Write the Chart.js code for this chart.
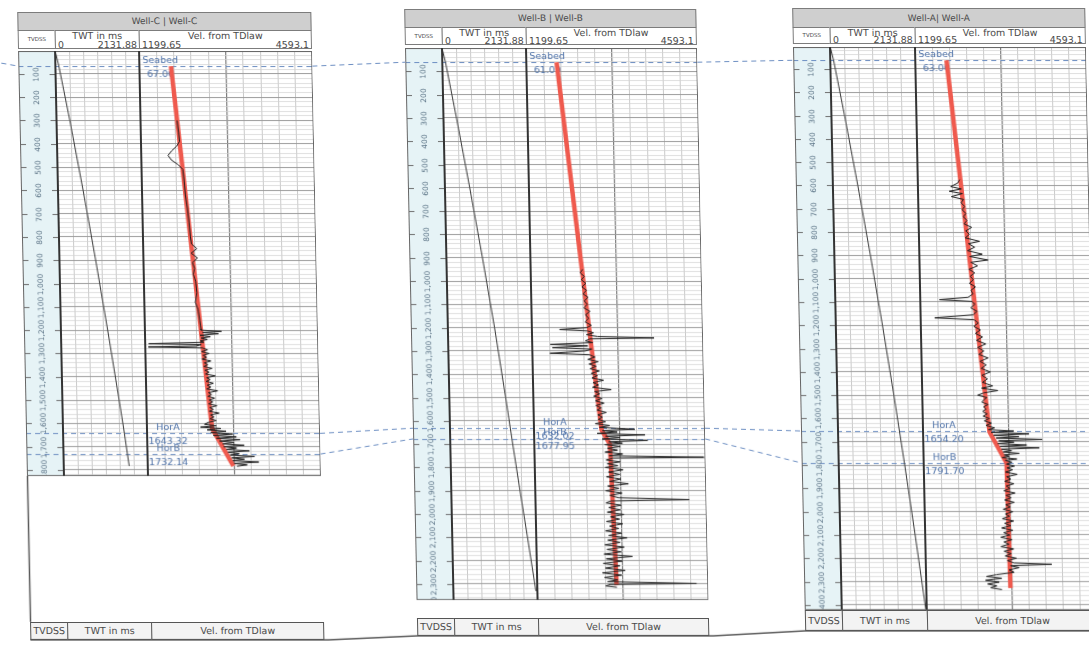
<!DOCTYPE html>
<html>
<head>
<meta charset="utf-8">
<title>Well correlation - TWT and TDlaw velocity</title>
<script src="https://cdn.jsdelivr.net/npm/chart.js@4.4.1/dist/chart.umd.min.js"></script>
<style>
  html, body { margin:0; padding:0; background:#fff; width:1089px; height:666px; overflow:hidden; }
  #sheet { position:absolute; left:0; top:0; width:1089px; height:666px; transform-origin:0 0; transform:skewX(1.2deg);
           font-family:"DejaVu Sans", Arial, sans-serif; color:#4a4a4a; }
  .cell { position:absolute; box-sizing:border-box; border:1px solid #7c7c7c; background:#fff; overflow:hidden; white-space:nowrap; }
  .title { background:#cfcfcf; text-align:center; font-size:9px; }
  .tv { font-size:5.5px; text-align:center; }
  .cap { position:absolute; left:0; right:0; top:0px; line-height:10px; text-align:center; font-size:9.5px; }
  .lo { position:absolute; left:2px; bottom:-2px; line-height:10px; font-size:9.5px; }
  .hi { position:absolute; right:2px; bottom:-2px; line-height:10px; font-size:9.5px; }
  .foot { background:#f3f3f3; border:1.5px solid #555; text-align:center; font-size:9.5px; }
  canvas { position:absolute; }
</style>
</head>
<body>
<div id="sheet"></div>
<script>
// ---------------- data ----------------
const wellTitles   = ['Well-C | Well-C', 'Well-B | Well-B', 'Well-A| Well-A'];
const twtAxis      = [0, 2131.88];          // TWT in ms
const velAxis      = [1199.65, 4593.1];     // Vel. from TDlaw
const horizonNames = ['Seabed', 'HorA', 'HorB'];
const horizonC     = [67.00, 1643.32, 1732.14];
const horizonB     = [61.00, 1632.02, 1677.95];
const horizonA     = [63.00, 1654.20, 1791.70];
const depthViewC   = [2, 1826];
const depthViewB   = [0, 2369];
const depthViewA   = [6, 2422];

// [TVDSS, TWT]
const twtC = [[0,0],[67,89],[300,338],[600,638],[900,920],[1200,1187],[1500,1441],[1620,1539],[1783,1661]];
const twtB = [[0,0],[61,81],[300,330],[600,630],[900,915],[1200,1185],[1500,1430],[1700,1585],[1900,1745],[2100,1910],[2330,2095]];
const twtA = [[0,0],[63,84],[300,330],[600,625],[900,905],[1200,1170],[1500,1420],[1800,1655],[2100,1880],[2422,2110]];

// [TVDSS, velocity] from the TD law
const tdlawC = [[67,1819],[1620,2475],[1783,2880]];
const tdlawB = [[61,1801],[1639,2540],[1700,2700],[2305,2775]];
const tdlawA = [[63,1820],[1658,2519],[1791,2844],[2328,2870]];

// [TVDSS, velocity] log
const sonicC = [[300,1915],[350,1940],[390,1955],[410,1900],[430,1800],[450,1725],[470,1790],[490,1920],[510,2010],[560,2030],
 [620,2050],[680,2085],[740,2110],[800,2130],[830,2150],[850,2250],[870,2140],[890,2260],[910,2160],[935,2200],[960,2170],
 [990,2215],[1040,2235],[1080,2200],[1110,2250],[1160,2280],[1195,2300],[1200,2300],[1205,2700],[1210,2330],[1215,2640],
 [1222,2280],[1228,2480],[1234,2300],[1240,2420],[1246,2280],[1252,2350],[1258,1270],[1262,2300],[1268,2200],[1272,1260],
 [1276,2320],[1284,2420],[1292,2300],[1300,2450],[1308,2330],[1316,2400],[1324,2310],[1332,2480],[1340,2350],[1348,2420],
 [1356,2340],[1364,2500],[1372,2360],[1380,2440],[1388,2370],[1396,2560],[1404,2390],[1412,2460],[1420,2380],[1428,2520],
 [1436,2400],[1444,2470],[1452,2390],[1460,2600],[1468,2420],[1476,2480],[1484,2410],[1492,2540],[1500,2430],[1508,2500],
 [1516,2420],[1524,2580],[1532,2440],[1540,2510],[1548,2430],[1556,2620],[1564,2450],[1572,2520],[1580,2440],[1588,2560],
 [1596,2400],[1604,2330],[1610,2560],[1616,2250],[1622,2650],[1628,2380],[1634,2750],[1640,2450],[1646,2880],[1652,2500],
 [1658,2950],[1664,2560],[1670,3020],[1676,2620],[1682,2900],[1688,2680],[1694,3100],[1700,2700],[1706,2950],[1712,2750],
 [1718,3200],[1724,2780],[1730,3000],[1736,2820],[1742,3300],[1748,2850],[1754,3100],[1760,2870],[1766,3380],[1772,2900],
 [1778,3150],[1784,2950]];

const sonicB = [[950,2230],[965,2180],[980,2260],[995,2200],[1010,2290],[1025,2210],[1040,2300],[1055,2230],[1070,2330],
 [1085,2250],[1100,2310],[1115,2240],[1130,2360],[1145,2270],[1160,2330],[1175,2260],[1190,2380],[1200,2290],[1208,1750],
 [1214,2300],[1222,2420],[1230,2280],[1238,2500],[1244,3620],[1248,2350],[1256,2260],[1264,2400],[1272,1560],[1278,2300],
 [1286,1600],[1292,2380],[1300,2250],[1310,1550],[1316,2330],[1326,2440],[1336,2300],[1346,2500],[1356,2320],[1366,2460],
 [1376,2340],[1386,2520],[1396,2360],[1406,2480],[1416,2370],[1426,2600],[1436,2390],[1446,2500],[1456,2380],[1466,2750],
 [1474,2420],[1484,2520],[1494,2400],[1504,2560],[1514,2430],[1524,2600],[1534,2440],[1544,2540],[1554,2460],[1564,2640],
 [1574,2470],[1584,2560],[1594,2480],[1604,2620],[1612,2420],[1620,2700],[1628,2500],[1636,3200],[1642,2560],[1648,2850],
 [1654,2450],[1660,3400],[1666,2620],[1672,2900],[1678,2550],[1684,3450],[1690,2680],[1696,2950],[1702,2600],[1710,2900],
 [1718,2650],[1726,2850],[1734,2600],[1742,2950],[1750,2680],[1756,4560],[1760,2750],[1768,2620],[1776,2900],[1784,2640],
 [1792,2850],[1800,2600],[1810,2950],[1820,2660],[1830,2880],[1840,2620],[1850,2900],[1860,2680],[1870,3050],[1880,2640],
 [1890,2860],[1900,2600],[1910,2920],[1920,2680],[1930,2850],[1938,4250],[1944,2700],[1952,2600],[1962,2900],[1972,2650],
 [1982,2880],[1992,2620],[2002,2950],[2012,2680],[2022,2860],[2032,2600],[2042,2920],[2052,2660],[2062,2840],[2072,2580],
 [2082,2900],[2092,2640],[2102,3000],[2112,2620],[2122,2860],[2132,2560],[2142,2940],[2152,2600],[2162,2880],[2172,2540],
 [2182,3100],[2192,2580],[2202,2900],[2212,2520],[2222,2850],[2232,2560],[2242,2950],[2252,2500],[2262,2880],[2272,2540],
 [2282,2800],[2290,2600],[2298,4360],[2302,2650],[2308,2560],[2314,2780]];

const sonicA = [[575,2030],[590,1990],[605,1850],[615,2060],[625,1820],[635,2080],[648,1860],[660,2100],[675,2050],[690,2120],
 [705,2070],[720,2140],[735,2090],[750,2160],[765,2100],[780,2250],[795,2130],[810,2200],[825,2120],[840,2400],[850,2180],
 [865,2300],[880,2160],[895,2450],[905,2200],[920,2560],[930,2220],[945,2350],[960,2180],[975,2290],[990,2200],[1005,2260],
 [1020,2180],[1035,2300],[1050,2210],[1065,2250],[1080,2150],[1090,1580],[1098,2230],[1110,2280],[1125,2200],[1140,2320],
 [1155,2240],[1168,1480],[1176,2260],[1190,2340],[1205,2250],[1220,2380],[1235,2280],[1250,2420],[1265,2300],[1280,2480],
 [1295,2320],[1310,2440],[1325,2340],[1340,2520],[1355,2360],[1370,2480],[1385,2380],[1400,2560],[1415,2390],[1430,2500],
 [1445,2400],[1460,2600],[1470,2380],[1480,2700],[1490,2420],[1500,2300],[1510,2480],[1520,2420],[1530,2380],[1540,2500],
 [1550,2410],[1560,2460],[1570,2390],[1580,2480],[1590,2400],[1600,2520],[1610,2420],[1620,2560],[1630,2450],[1640,2620],
 [1648,2500],[1654,3000],[1660,2550],[1666,3300],[1672,2600],[1678,3100],[1684,2650],[1690,3560],[1696,2700],[1702,3000],
 [1708,2680],[1714,3250],[1720,2720],[1726,3500],[1732,2750],[1738,2950],[1744,2780],[1750,3100],[1756,2800],[1762,2900],
 [1768,2760],[1774,3050],[1780,2820],[1788,2950],[1796,2840],[1804,3000],[1812,2850],[1820,2960],[1830,2820],[1840,3050],
 [1850,2840],[1860,2920],[1870,2800],[1880,2980],[1890,2830],[1900,2900],[1910,2780],[1920,3000],[1930,2820],[1940,2920],
 [1950,2790],[1960,2980],[1970,2810],[1980,2900],[1990,2760],[2000,2950],[2010,2800],[2020,2880],[2030,2740],[2040,2960],
 [2050,2780],[2060,2900],[2070,2720],[2080,2940],[2090,2760],[2100,2880],[2110,2700],[2120,2920],[2130,2760],[2140,2860],
 [2150,2700],[2160,2950],[2170,2760],[2180,2900],[2190,2780],[2200,3000],[2210,2820],[2220,2950],[2226,3700],[2232,2880],
 [2240,3050],[2250,2850],[2260,2950],[2270,2600],[2278,2400],[2286,2700],[2294,2380],[2302,2650],[2310,2420],[2318,2600],
 [2326,2480],[2334,2700]];

// ---------------- panel layout (px) ----------------
const panels = [
  { left:17,  headTop:12, titleH:19, subH:19, plotTop:51, plotBottom:476, footTop:622, footH:18,
    depthW:37, twtW:84, velW:173, view:depthViewC, hz:horizonC, twt:twtC, tdlaw:tdlawC, sonic:sonicC },
  { left:404, headTop:9,  titleH:19, subH:18, plotTop:48, plotBottom:600, footTop:618, footH:18,
    depthW:37, twtW:84, velW:171, view:depthViewB, hz:horizonB, twt:twtB, tdlaw:tdlawB, sonic:sonicB },
  { left:792, headTop:8,  titleH:20, subH:17, plotTop:47, plotBottom:610, footTop:610, footH:21,
    depthW:37, twtW:85, velW:171, view:depthViewA, hz:horizonA, twt:twtA, tdlaw:tdlawA, sonic:sonicA }
];

const sheet = document.getElementById('sheet');
function cell(cls, x, y, w, h, html) {
  const d = document.createElement('div');
  d.className = 'cell ' + cls;
  Object.assign(d.style, { left:x+'px', top:y+'px', width:w+'px', height:h+'px', lineHeight:(h-2)+'px' });
  d.innerHTML = html;
  sheet.appendChild(d);
  return d;
}

const divisions = (lo, hi, n) => Array.from({ length:n+1 }, (_, i) => ({ value: lo + (hi - lo) * i / n }));
const toXY = arr => arr.map(p => ({ x:p[1], y:p[0] }));

// draws the depth column, horizon picks and track borders of one panel
const trackPlugin = {
  id: 'track',
  beforeDraw(chart) {
    const { ctx, chartArea:a, width, height } = chart;
    ctx.save();
    ctx.fillStyle = '#ffffff'; ctx.fillRect(0, 0, width, height);
    ctx.fillStyle = '#e6f3f6'; ctx.fillRect(0, 0, a.left, height);
    ctx.restore();
  },
  beforeDatasetsDraw(chart, args, opts) {
    const { ctx, scales:{ y, xV }, width } = chart;
    ctx.save();
    ctx.strokeStyle = '#6c8ec2'; ctx.lineWidth = 1; ctx.setLineDash([5, 4]);
    opts.depths.forEach(d => {
      const py = Math.round(y.getPixelForValue(d)) + 0.5;
      ctx.beginPath(); ctx.moveTo(0, py); ctx.lineTo(width, py); ctx.stroke();
    });
    ctx.setLineDash([]);
    ctx.fillStyle = '#4f73aa'; ctx.font = '9.5px "DejaVu Sans"';
    ctx.textAlign = 'center'; ctx.textBaseline = 'middle';
    opts.depths.forEach((d, i) => {
      const py = y.getPixelForValue(d);
      const cx = xV.left + 21;
      ctx.fillText(opts.names[i], cx, py - 6);
      ctx.fillText(d.toFixed(2), cx, py + 8);
    });
    ctx.restore();
  },
  afterDraw(chart) {
    const { ctx, chartArea:a, scales:{ y, xT }, width, height } = chart;
    ctx.save();
    ctx.beginPath(); ctx.rect(0, 0, a.left, height); ctx.clip();
    ctx.strokeStyle = '#6e6e6e'; ctx.lineWidth = 1;
    ctx.fillStyle = '#5c7487'; ctx.font = '7.5px "DejaVu Sans"';
    ctx.textAlign = 'center'; ctx.textBaseline = 'middle';
    for (let d = 100; d <= y.max + 40; d += 100) {
      const py = Math.round(y.getPixelForValue(d)) + 0.5;
      ctx.beginPath();
      ctx.moveTo(0, py); ctx.lineTo(6, py);
      ctx.moveTo(a.left - 6, py); ctx.lineTo(a.left, py);
      ctx.stroke();
      ctx.save();
      ctx.translate(a.left / 2, py); ctx.rotate(-Math.PI / 2);
      ctx.fillText(d.toLocaleString('en-US'), 0, 0);
      ctx.restore();
    }
    ctx.restore();
    ctx.save();
    ctx.strokeStyle = '#666'; ctx.lineWidth = 1;
    ctx.strokeRect(0.5, 0.5, width - 1, height - 1);
    ctx.strokeStyle = '#333'; ctx.lineWidth = 2;
    [a.left, xT.right].forEach(x => {
      ctx.beginPath(); ctx.moveTo(Math.round(x), 0); ctx.lineTo(Math.round(x), height); ctx.stroke();
    });
    ctx.restore();
  }
};

panels.forEach((P, k) => {
  const W = P.depthW + P.twtW + P.velW;
  // header
  cell('title', P.left, P.headTop, W, P.titleH, wellTitles[k]);
  const sy = P.headTop + P.titleH - 1;
  cell('tv', P.left, sy, P.depthW + 1, P.subH, 'TVDSS');
  cell('', P.left + P.depthW, sy, P.twtW + 1, P.subH,
       `<span class="cap">TWT in ms</span><span class="lo">${twtAxis[0]}</span><span class="hi">${twtAxis[1]}</span>`);
  cell('', P.left + P.depthW + P.twtW, sy, P.velW, P.subH,
       `<span class="cap">Vel. from TDlaw</span><span class="lo">${velAxis[0]}</span><span class="hi">${velAxis[1]}</span>`);
  // footer
  cell('foot tv', P.left, P.footTop, P.depthW + 1, P.footH, 'TVDSS');
  cell('foot', P.left + P.depthW, P.footTop, P.twtW + 1, P.footH, 'TWT in ms');
  cell('foot', P.left + P.depthW + P.twtW, P.footTop, P.velW, P.footH, 'Vel. from TDlaw');

  // log tracks
  const cv = document.createElement('canvas');
  const H = P.plotBottom - P.plotTop;
  cv.width = W; cv.height = H;
  Object.assign(cv.style, { left:P.left+'px', top:P.plotTop+'px', width:W+'px', height:H+'px' });
  sheet.appendChild(cv);

  P.chart = new Chart(cv, {
    type: 'line',
    data: { datasets: [
      { data: toXY(P.twt),   xAxisID:'xT', yAxisID:'y', borderColor:'#3a3a3a', borderWidth:1,   pointRadius:0 },
      { data: toXY(P.sonic), xAxisID:'xV', yAxisID:'y', borderColor:'#1c1c1c', borderWidth:1,   pointRadius:0 },
      { data: toXY(P.tdlaw), xAxisID:'xV', yAxisID:'y', borderColor:'#ef5a4e', borderWidth:4.5, pointRadius:0 }
    ]},
    options: {
      responsive:false, animation:false, events:[],
      layout:{ padding:0 },
      plugins:{ legend:{ display:false }, tooltip:{ enabled:false },
                track:{ depths:P.hz, names:horizonNames } },
      scales: {
        // TWT track first, velocity track to its right (bottom boxes stack left to right)
        xT: { type:'linear', position:'bottom', stack:'tracks', stackWeight:P.twtW,
              min:twtAxis[0], max:twtAxis[1],
              ticks:{ display:false }, border:{ display:false },
              grid:{ drawTicks:false, color:'#bdbdbd', lineWidth:0.8 },
              afterBuildTicks: s => { s.ticks = divisions(s.min, s.max, 6); },
              afterFit: s => { s.height = 0; } },
        xV: { type:'linear', position:'bottom', stack:'tracks', stackWeight:P.velW,
              min:velAxis[0], max:velAxis[1],
              ticks:{ display:false }, border:{ display:false },
              grid:{ drawTicks:false, color: c => c.index === 5 ? '#7d7d7d' : '#bdbdbd', lineWidth: c => c.index === 5 ? 1.2 : 0.8 },
              afterBuildTicks: s => { s.ticks = divisions(s.min, s.max, 10); },
              afterFit: s => { s.height = 0; } },
        y:  { type:'linear', position:'left', reverse:true, min:P.view[0], max:P.view[1],
              ticks:{ display:false }, border:{ display:false },
              grid:{ drawTicks:false,
                     color: c => (c.tick && c.tick.value % 100 === 0) ? '#9c9c9c' : '#d3d3d3',
                     lineWidth: c => (c.tick && c.tick.value % 100 === 0) ? 1 : 0.7 },
              afterBuildTicks: s => {
                const t = [];
                for (let v = Math.ceil(s.min / 20) * 20; v <= s.max; v += 20) t.push({ value:v });
                s.ticks = t;
              },
              afterFit: s => { s.width = P.depthW; } }
      }
    },
    plugins:[trackPlugin]
  });
});

// correlation lines between panels and the sheet frame
const links = document.createElement('canvas');
links.width = 1089; links.height = 666;
Object.assign(links.style, { left:'0px', top:'0px', width:'1089px', height:'666px', zIndex:5 });
sheet.appendChild(links);
const lc = links.getContext('2d');
const hzY = (P, i) => P.plotTop + P.chart.scales.y.getPixelForValue(P.hz[i]);
const rightOf = P => P.left + P.depthW + P.twtW + P.velW;

lc.strokeStyle = '#6c8ec2'; lc.lineWidth = 1; lc.setLineDash([5, 4]);
for (let i = 0; i < horizonNames.length; i++) {
  for (let k = 0; k < panels.length - 1; k++) {
    lc.beginPath();
    lc.moveTo(rightOf(panels[k]), hzY(panels[k], i));
    lc.lineTo(panels[k + 1].left, hzY(panels[k + 1], i));
    lc.stroke();
  }
}
lc.beginPath();
lc.moveTo(0, hzY(panels[0], 0) - 3); lc.lineTo(panels[0].left, hzY(panels[0], 0)); lc.stroke();
lc.setLineDash([]);

lc.strokeStyle = '#5a5a5a'; lc.lineWidth = 1.5;
const C = panels[0];
lc.beginPath();
lc.moveTo(C.left + 0.5, C.plotBottom); lc.lineTo(C.left + 0.5, C.footTop); lc.stroke();
lc.beginPath();
lc.moveTo(C.left, C.footTop + C.footH);
panels.forEach(P => { lc.lineTo(P.left, P.footTop + P.footH); lc.lineTo(rightOf(P) + 4, P.footTop + P.footH); });
lc.lineTo(1089, panels[2].footTop + panels[2].footH);
lc.stroke();
</script>
</body>
</html>
